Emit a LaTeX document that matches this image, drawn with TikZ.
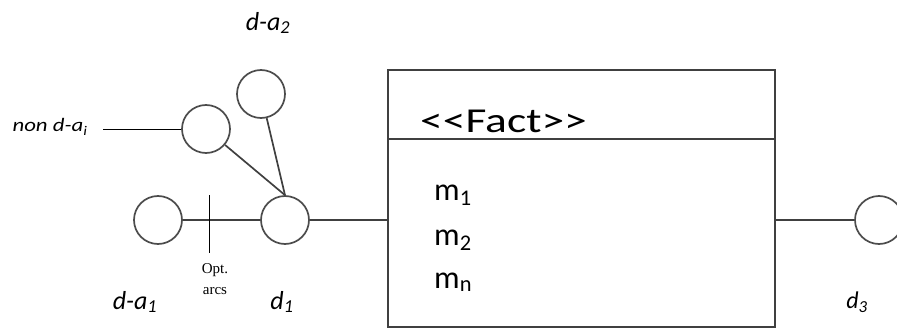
\documentclass[tikz,border=0pt]{standalone}
\usepackage{fontspec}
\setmainfont{Carlito}
\newfontfamily\widefam[FakeStretch=1.3]{Carlito}
\newfontfamily\widefamsm[FakeStretch=1.2]{Carlito}
\newfontfamily\serifopt{Liberation Serif}
\begin{document}
\begin{tikzpicture}[x=1pt,y=-1pt,
  ent/.style={circle,draw=black!70,line width=1.7pt,minimum size=48pt,inner sep=0pt},
  conn/.style={draw=black!75,line width=1.7pt},
  thin/.style={draw=black,line width=0.9pt},
  lbl/.style={font=\fontsize{26}{28}\selectfont\itshape,inner sep=0pt},
  small/.style={font=\widefamsm\fontsize{19}{20}\selectfont\itshape,inner sep=0pt},
  meas/.style={font=\fontsize{32}{34}\selectfont,inner sep=0pt,anchor=base west},
  opttxt/.style={font=\serifopt\fontsize{15}{16}\selectfont,inner sep=0pt}]
\useasboundingbox (0,0) rectangle (897,329);
% circles
\node[ent] (da1) at (158,220) {};
\node[ent] (d1) at (285,220) {};
\node[ent] (ndai) at (206,129) {};
\node[ent] (da2) at (261,94) {};
\node[ent] (d3) at (879,220) {};
% fact box
\coordinate (boxtl) at (388,70);
\coordinate (boxbr) at (775,327);
\coordinate (divl) at (388,139);
\coordinate (divr) at (775,139);
\draw[conn] (boxtl) rectangle (boxbr);
\draw[conn] (divl) -- (divr);
\node[font=\widefam\fontsize{35}{36}\selectfont,inner sep=0pt,anchor=base west] (fact) at (420,132) {<\kern0pt<Fact>\kern0pt>};
\node[meas] (m1) at (434,200) {m\textsubscript{1}};
\node[meas] (m2) at (434,245) {m\textsubscript{2}};
\node[meas] (mn) at (434,288) {m\textsubscript{n}};
% connectors
\draw[conn] (da1) -- (d1);
\draw[conn] (d1.east) -- (d1.east -| boxtl);
\draw[conn] (d3.west -| boxbr) -- (d3.west);
\draw[conn] (d1.north) -- (ndai);
\draw[conn] (d1.north) -- (da2);
% optional arcs tick
\coordinate (ticktop) at (209,195);
\coordinate (tickbot) at (209,253);
\draw[thin] (ticktop) -- (tickbot);
\node[opttxt] (opt) at (215,270) {Opt.};
\node[opttxt] (arcs) at (215,291) {arcs};
% non d-a_i
\node[small] (ndailbl) at (50,127) {non d-a\textsubscript{i}};
\coordinate (ndaistart) at (103,129);
\draw[thin] (ndaistart) -- (ndai.west);
% labels
\node[lbl] (lda1) at (135,302) {d-a\textsubscript{1}};
\node[lbl] (ld1) at (282,302) {d\textsubscript{1}};
\node[lbl] (lda2) at (268,23) {d-a\textsubscript{2}};
\node[font=\fontsize{24}{26}\selectfont\itshape,inner sep=0pt] (ld3) at (857,302) {d\textsubscript{3}};
\end{tikzpicture}
\end{document}
